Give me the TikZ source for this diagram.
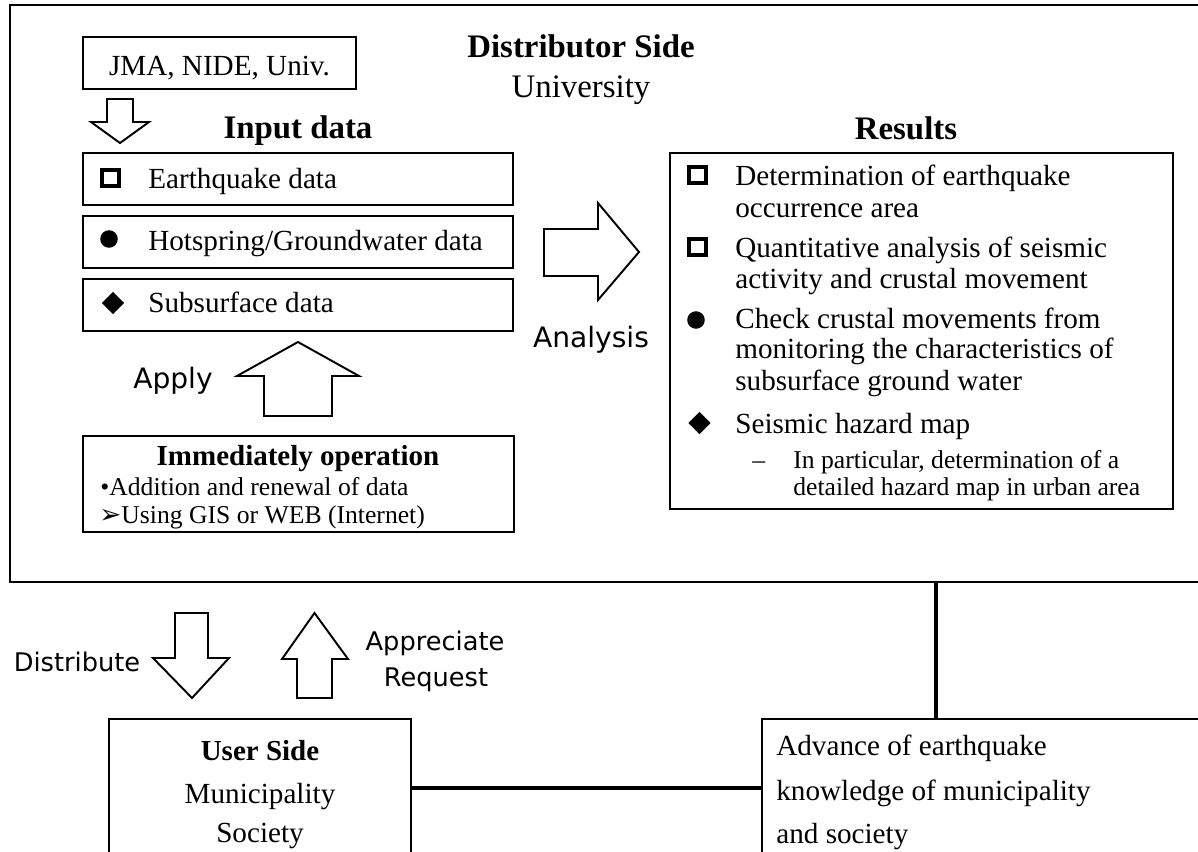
\documentclass[tikz,border=0pt]{standalone}
\usepackage{fontspec}
\setmainfont{Liberation Serif}
\newfontfamily\gothic{DejaVu Sans}
\usetikzlibrary{fit,positioning,shapes.geometric}

\tikzset{
  panel/.style={draw, line width=1.5pt, inner sep=0pt},
  databox/.style={draw, line width=0.8pt, inner sep=0pt},
  opbox/.style={draw, line width=1.7pt, inner sep=0pt},
  userbox/.style={draw, line width=1.1pt, inner sep=0pt},
  blockarrow/.style={draw, line width=1.1pt, fill=white, line join=miter},
  link/.style={line width=2.4pt},
  txt/.style={inner sep=0pt, font=\fontsize{16.6}{19}\selectfont},
  boldtxt/.style={inner sep=0pt, font=\bfseries\fontsize{16.5}{19}\selectfont},
  hdtxt/.style={inner sep=0pt, font=\fontsize{18.7}{22}\selectfont},
  smalltxt/.style={inner sep=0pt, font=\fontsize{14.6}{17}\selectfont},
  lbl/.style={inner sep=0pt, font=\gothic\fontsize{14.6}{18}\selectfont},
  sqb/.style={draw, rectangle, line width=2.3pt, minimum size=9.6pt, inner sep=0pt},
  dotb/.style={fill, circle, minimum size=10pt, inner sep=0pt},
  diab/.style={fill, diamond, aspect=1, minimum size=12.8pt, inner sep=0pt},
}

\begin{document}
\begin{tikzpicture}[x=0.02cm, y=-0.02cm]
  \useasboundingbox (0,0) rectangle (1198,852);

  % Distributor side panel
  \node[panel, fit={(10,5) (1215,582)}] (dist) {};
  \node[hdtxt, font=\bfseries\fontsize{18.7}{22}\selectfont, anchor=base] (disttitle) at (581,57) {Distributor Side};
  \node[hdtxt, anchor=base] (distsub) at (581,97) {University};

  % Source and input data
  \node[databox, fit={(83,37) (356,89)}] (src) {};
  \node[txt, anchor=base] (srct) at (219.5,75) {JMA, NIDE, Univ.};
  \draw[blockarrow] (107,99) -- (133,99) -- (133,122) -- (149,122) -- (120,143) -- (91,122) -- (107,122) -- cycle;
  \node[hdtxt, font=\bfseries\fontsize{18.7}{22}\selectfont, anchor=base] (inhead) at (298,138) {Input data};

  \node[databox, fit={(83,153) (513,205)}] (eq) {};
  \node[databox, fit={(83,216) (513,268)}] (hs) {};
  \node[databox, fit={(83,279) (513,331)}] (ss) {};
  \node[sqb] (eqb) at (110.5,178) {};
  \node[dotb] (hsb) at (109,239) {};
  \node[diab] (ssb) at (113,303) {};
  \node[txt, anchor=base west] (eqt) at (148,188) {Earthquake data};
  \node[txt, anchor=base west] (hst) at (148,250) {Hotspring/Groundwater data};
  \node[txt, anchor=base west] (sst) at (148,312) {Subsurface data};

  % Analysis
  \draw[blockarrow] (544,229) -- (598,229) -- (598,203) -- (639,252) -- (598,300) -- (598,276) -- (544,276) -- cycle;
  \node[lbl, font=\gothic\fontsize{16}{19}\selectfont, anchor=base] (analysis) at (591,347) {Analysis};

  % Apply
  \draw[blockarrow] (264,416) -- (264,376) -- (237,376) -- (298,342) -- (359,376) -- (332,376) -- (332,416) -- cycle;
  \node[lbl, font=\gothic\fontsize{16}{19}\selectfont, anchor=base] (apply) at (173,388) {Apply};

  % Immediately operation
  \node[opbox, fit={(83,436) (514,532)}] (op) {};
  \node[boldtxt, anchor=base] (opt) at (298,465) {Immediately operation};
  \node[smalltxt, anchor=base west] (op1) at (100,495) {•Addition and renewal of data};
  \node[smalltxt, anchor=base west] (op2) at (99,523) {{\gothic\fontsize{15}{17}\selectfont ➢}Using GIS or WEB (Internet)};

  % Results
  \node[hdtxt, font=\bfseries\fontsize{18.7}{22}\selectfont, anchor=base] (reshead) at (906,139) {Results};
  \node[databox, fit={(670,153) (1173,509)}] (res) {};
  \node[sqb] (rb1) at (697.5,175) {};
  \node[sqb] (rb2) at (697.5,247) {};
  \node[dotb] (rb3) at (696,320) {};
  \node[diab] (rb4) at (699.5,423) {};
  \foreach \n/\yy/\line in {1/185/Determination of earthquake, 2/217/occurrence area,
      3/257/Quantitative analysis of seismic, 4/288/activity and crustal movement,
      5/328/Check crustal movements from, 6/358/monitoring the characteristics of,
      7/390/subsurface ground water, 8/433/Seismic hazard map}
    \node[txt, anchor=base west] (r\n) at (735,\yy) {\line};
  \node[smalltxt, anchor=base west] (rdash) at (752,468) {–};
  \node[smalltxt, anchor=base west] (rs1) at (793,468) {In particular, determination of a};
  \node[smalltxt, anchor=base west] (rs2) at (793,495) {detailed hazard map in urban area};

  % Distribute / request
  \draw[blockarrow] (175,613) -- (208,613) -- (208,658) -- (229,658) -- (192,698) -- (153,658) -- (175,658) -- cycle;
  \node[lbl, anchor=base] (distr) at (77,671) {Distribute};
  \draw[blockarrow] (297,698) -- (297,659) -- (282,659) -- (314.5,613) -- (348,659) -- (332,659) -- (332,698) -- cycle;
  \node[lbl, anchor=base] (appr) at (435,650) {Appreciate};
  \node[lbl, anchor=base] (req) at (436,686) {Request};

  % User side
  \node[userbox, fit={(109,719) (411,857)}] (user) {};
  \node[boldtxt, anchor=base] (usert) at (260,760) {User Side};
  \node[txt, anchor=base] (user1) at (260,803) {Municipality};
  \node[txt, anchor=base] (user2) at (260,842) {Society};

  % Knowledge
  \node[databox, fit={(762,719) (1215,857)}] (adv) {};
  \node[txt, anchor=base west] (adv1) at (776,755) {Advance of earthquake};
  \node[txt, anchor=base west] (adv2) at (776,800) {knowledge of municipality};
  \node[txt, anchor=base west] (adv3) at (776,843) {and society};

  \coordinate (tap) at (936,0);
  \draw[link] (user.east) -- (adv.west);
  \draw[link] (dist.south -| tap) -- (adv.north -| tap);

\end{tikzpicture}
\end{document}
